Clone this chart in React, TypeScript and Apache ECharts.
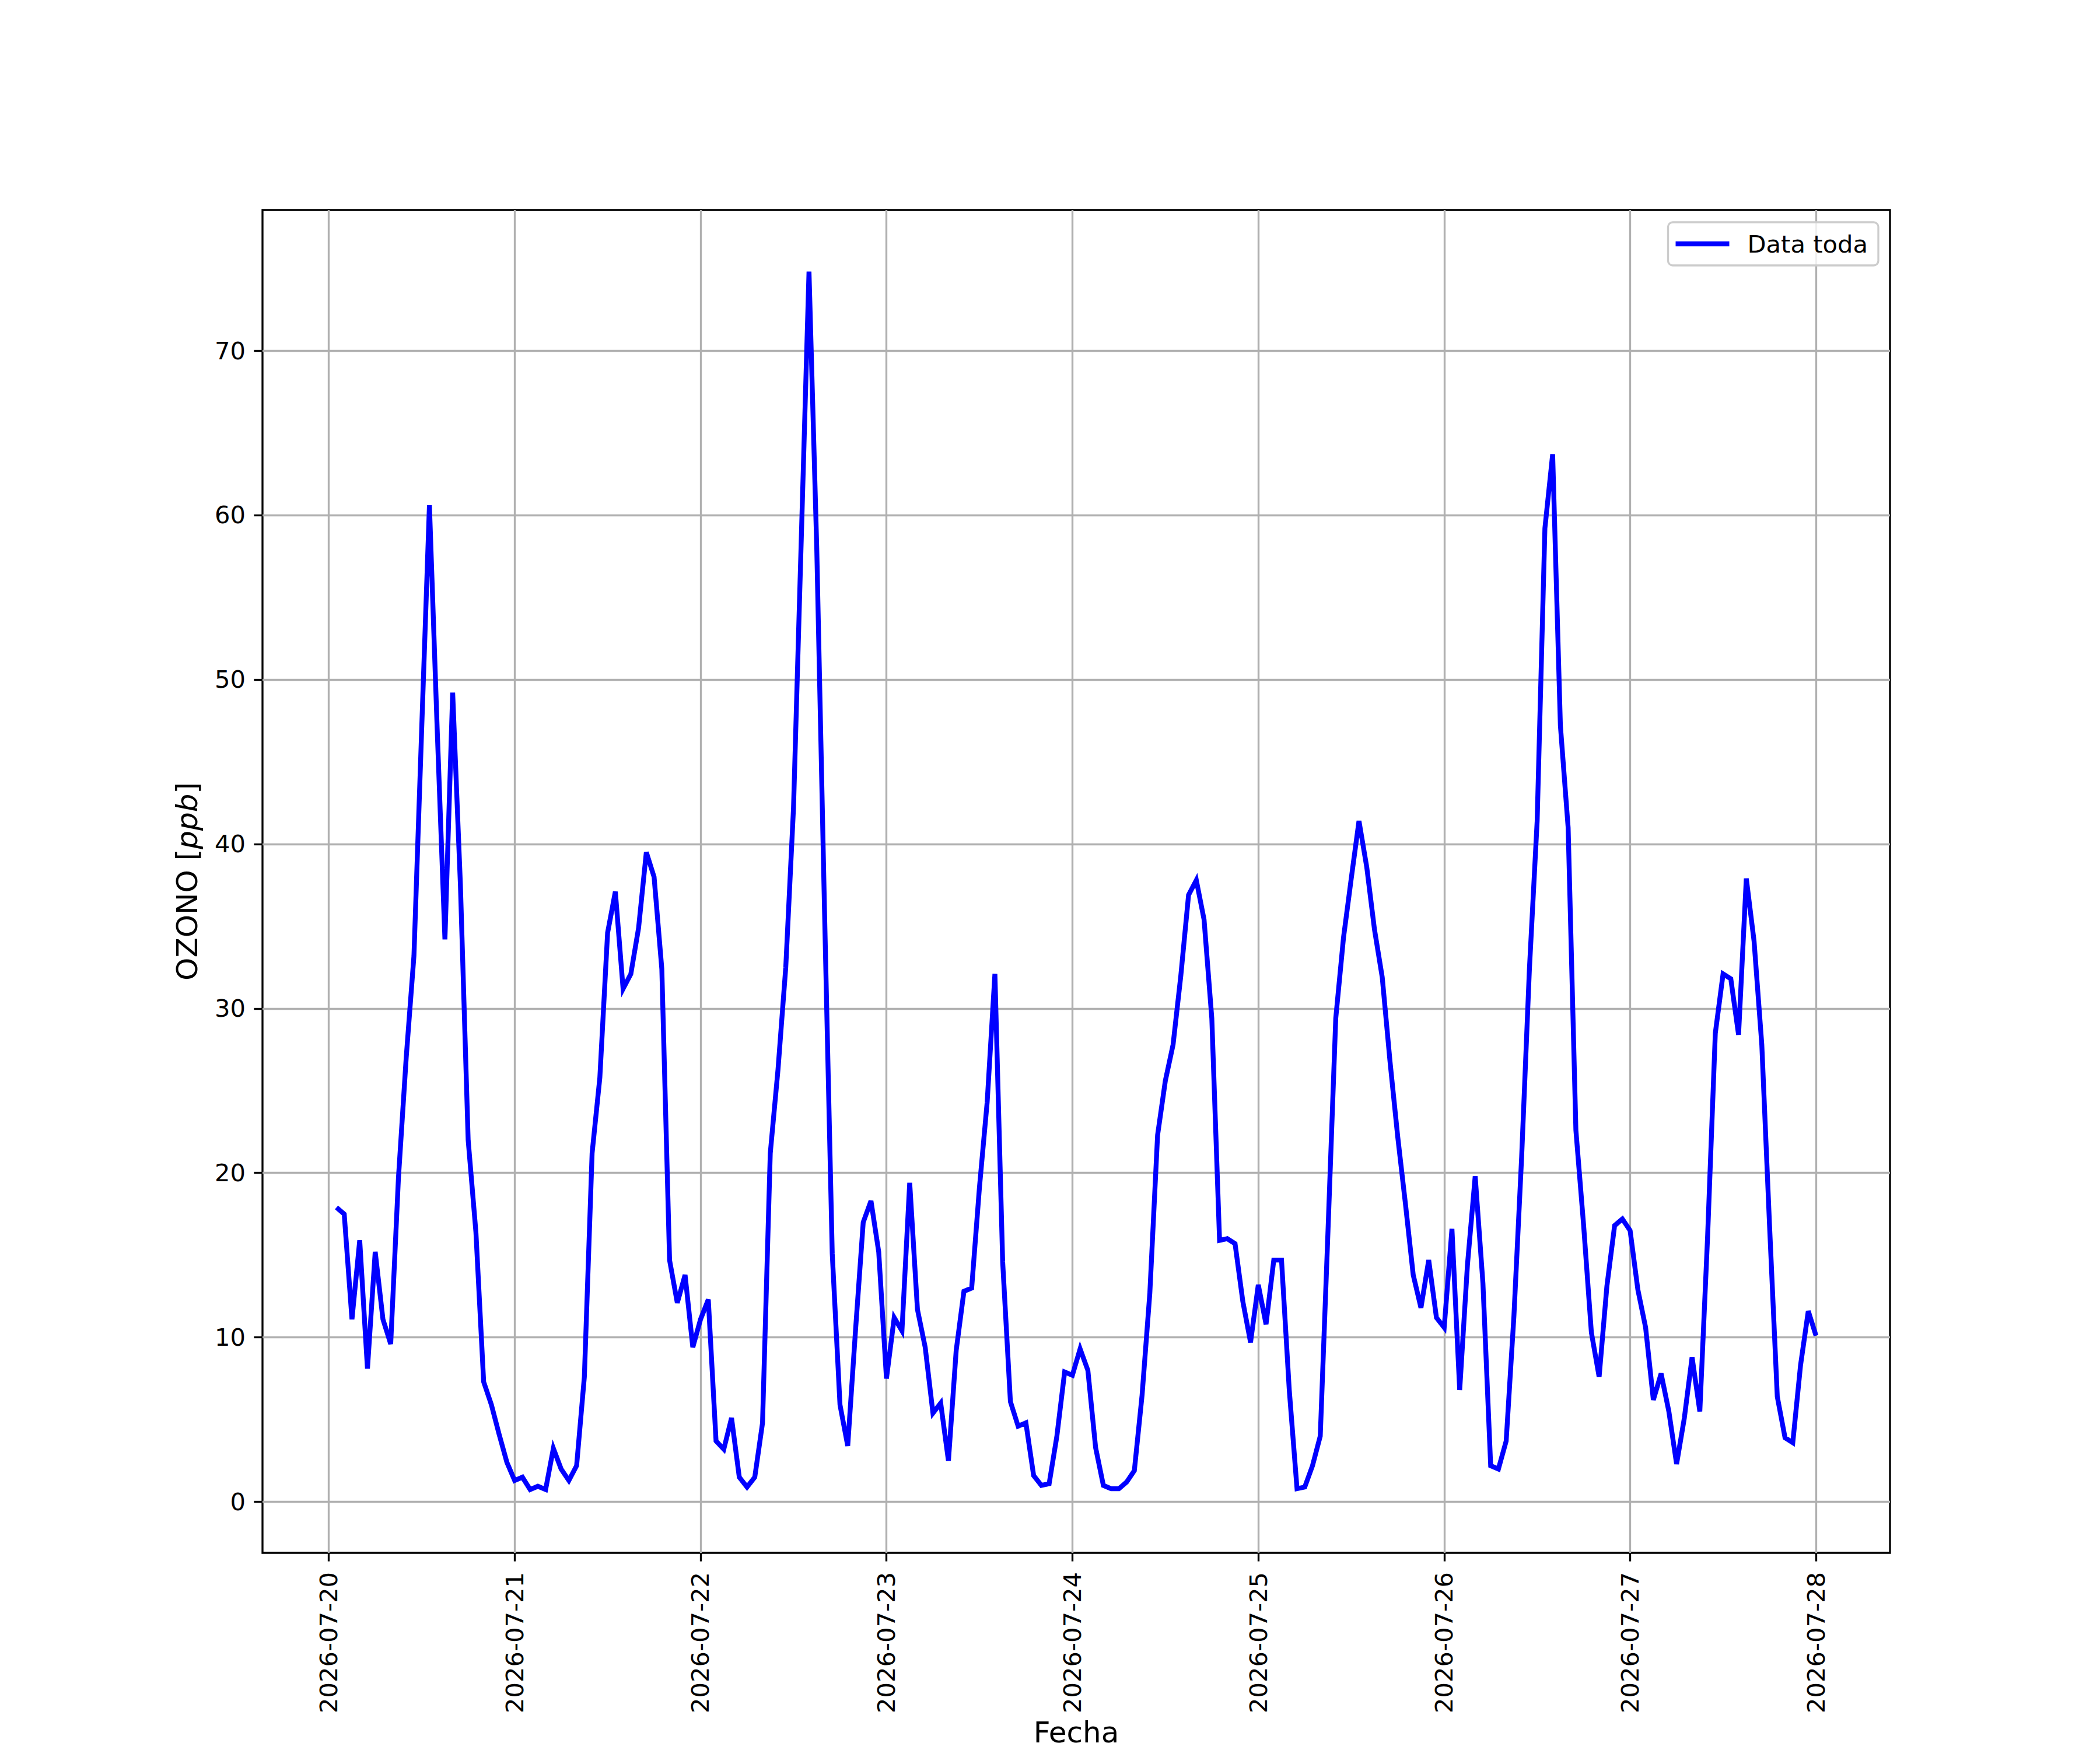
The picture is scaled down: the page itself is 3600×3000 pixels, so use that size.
import React, { useEffect, useRef } from "react";
import * as echarts from "echarts";

// Hourly ozone values [ppb], 2026-07-20 01:00 .. 2026-07-28 00:00 (one array per day)
const day20 = [17.9, 17.5, 11.1, 15.9, 8.1, 15.2, 11.1, 9.6, 19.7, 27.0, 33.2, 47.0, 60.6, 47.0, 34.2, 49.2, 37.5, 22.0, 16.4, 7.3, 5.9, 4.1, 2.4, 1.3];
const day21 = [1.5, 0.75, 0.95, 0.75, 3.25, 2.0, 1.3, 2.2, 7.6, 21.2, 25.8, 34.6, 37.1, 31.2, 32.1, 34.9, 39.5, 38.0, 32.4, 14.7, 12.1, 13.8, 9.4, 11.1];
const day22 = [12.3, 3.7, 3.2, 5.1, 1.5, 0.9, 1.5, 4.8, 21.2, 26.3, 32.5, 42.2, 58.5, 74.8, 58.0, 36.0, 15.1, 5.9, 3.4, 10.4, 17.0, 18.3, 15.2, 7.5];
const day23 = [11.2, 10.4, 19.4, 11.7, 9.4, 5.4, 6.0, 2.5, 9.2, 12.8, 13.0, 19.1, 24.3, 32.1, 14.6, 6.1, 4.6, 4.8, 1.6, 1.0, 1.1, 4.0, 7.9, 7.7];
const day24 = [9.3, 8.0, 3.3, 1.0, 0.8, 0.8, 1.2, 1.9, 6.5, 12.7, 22.3, 25.6, 27.8, 32.0, 36.9, 37.8, 35.4, 29.4, 15.9, 16.0, 15.7, 12.2, 9.7, 13.2];
const day25 = [10.8, 14.7, 14.7, 6.8, 0.8, 0.9, 2.2, 4.0, 16.5, 29.4, 34.3, 37.9, 41.4, 38.6, 34.8, 31.9, 26.8, 22.2, 18.1, 13.8, 11.8, 14.7, 11.2, 10.6];
const day26 = [16.6, 6.8, 14.4, 19.8, 13.3, 2.2, 2.0, 3.7, 11.3, 21.0, 32.4, 41.4, 59.2, 63.7, 47.2, 41.0, 22.6, 16.8, 10.3, 7.6, 13.1, 16.8, 17.2, 16.5];
const day27 = [12.9, 10.6, 6.2, 7.8, 5.5, 2.3, 5.1, 8.8, 5.5, 16.1, 28.5, 32.1, 31.8, 28.4, 37.9, 34.1, 27.8, 16.8, 6.4, 3.9, 3.6, 8.3, 11.6, 10.1];

const tickDates = ["2026-07-20", "2026-07-21", "2026-07-22", "2026-07-23", "2026-07-24", "2026-07-25", "2026-07-26", "2026-07-27", "2026-07-28"];
const yTicks = [0, 10, 20, 30, 40, 50, 60, 70];
const seriesName = "Data toda";

const HOUR = 3600 * 1000;
const FIRST = Date.UTC(2026, 6, 20, 1);

export default function App() {
  const ref = useRef<HTMLDivElement>(null);
  useEffect(() => {
    if (!ref.current) return;
    const chart = echarts.init(ref.current, undefined, { renderer: "svg" });
    const values = [...day20, ...day21, ...day22, ...day23, ...day24, ...day25, ...day26, ...day27];
    const data = values.map((v, i) => [FIRST + i * HOUR, v]);
    const t0 = data[0][0];
    const t1 = data[data.length - 1][0];
    const pad = (t1 - t0) * 0.05;
    const xTicks = tickDates.map((d) => Date.parse(d + "T00:00:00Z"));
    const font = "DejaVu Sans";
    const fs = 41.67;
    const nfs = 50;
    const lw = 3.33;

    chart.setOption({
      animation: false,
      backgroundColor: "#ffffff",
      grid: {
        left: 450,
        right: 360,
        top: 360,
        bottom: 330,
        show: true,
        borderColor: "#000000",
        borderWidth: lw,
        backgroundColor: "transparent",
      },
      legend: {
        show: true,
        right: 380,
        top: 381,
        orient: "horizontal",
        data: [{ name: seriesName, icon: "rect" }],
        itemWidth: 92,
        itemHeight: 8.33,
        padding: [12, 18, 12, 13],
        backgroundColor: "rgba(255,255,255,0.8)",
        borderColor: "#cccccc",
        borderWidth: 3.33,
        borderRadius: 8,
        textStyle: {
          fontFamily: font,
          fontSize: fs,
          color: "#000000",
          padding: [0, 0, 0, 26],
          lineHeight: 50,
        },
      },
      xAxis: {
        type: "value",
        min: t0 - pad,
        max: t1 + pad,
        name: "Fecha",
        nameLocation: "middle",
        nameGap: 282,
        nameTextStyle: { fontFamily: font, fontSize: nfs, color: "#000000" },
        axisLine: { show: false, onZero: false },
        axisTick: {
          show: true,
          inside: false,
          length: 14.6,
          lineStyle: { color: "#000000", width: lw },
          customValues: xTicks,
        },
        axisLabel: {
          show: true,
          rotate: 90,
          margin: 33,
          fontFamily: font,
          fontSize: fs,
          color: "#000000",
          customValues: xTicks,
          formatter: (v: number) => new Date(v).toISOString().slice(0, 10),
        },
        splitLine: { show: true, lineStyle: { color: "#b0b0b0", width: lw } },
      },
      yAxis: {
        type: "value",
        min: -3.1,
        max: 78.55,
        name: "{a|OZONO [}{b|ppb}{a|]}",
        nameLocation: "middle",
        nameGap: 104,
        nameRotate: 90,
        nameTextStyle: {
          rich: {
            a: { fontFamily: font, fontSize: nfs, color: "#000000" },
            b: { fontFamily: font, fontSize: nfs, color: "#000000", fontStyle: "italic" },
          },
        },
        axisLine: { show: false, onZero: false },
        axisTick: {
          show: true,
          inside: false,
          length: 14.6,
          lineStyle: { color: "#000000", width: lw },
          customValues: yTicks,
        },
        axisLabel: {
          show: true,
          margin: 29,
          fontFamily: font,
          fontSize: fs,
          color: "#000000",
          customValues: yTicks,
        },
        splitLine: { show: true, lineStyle: { color: "#b0b0b0", width: lw } },
      },
      series: [
        {
          name: seriesName,
          type: "line",
          data,
          symbol: "none",
          showSymbol: false,
          lineStyle: { color: "#0000ff", width: 8.33, join: "miter" },
          itemStyle: { color: "#0000ff" },
          z: 3,
        },
      ],
    });
    return () => chart.dispose();
  }, []);
  return (
    <div
      ref={ref}
      style={{ position: "absolute", left: 0, top: 0, width: 3600, height: 3000, background: "#ffffff" }}
    />
  );
}
